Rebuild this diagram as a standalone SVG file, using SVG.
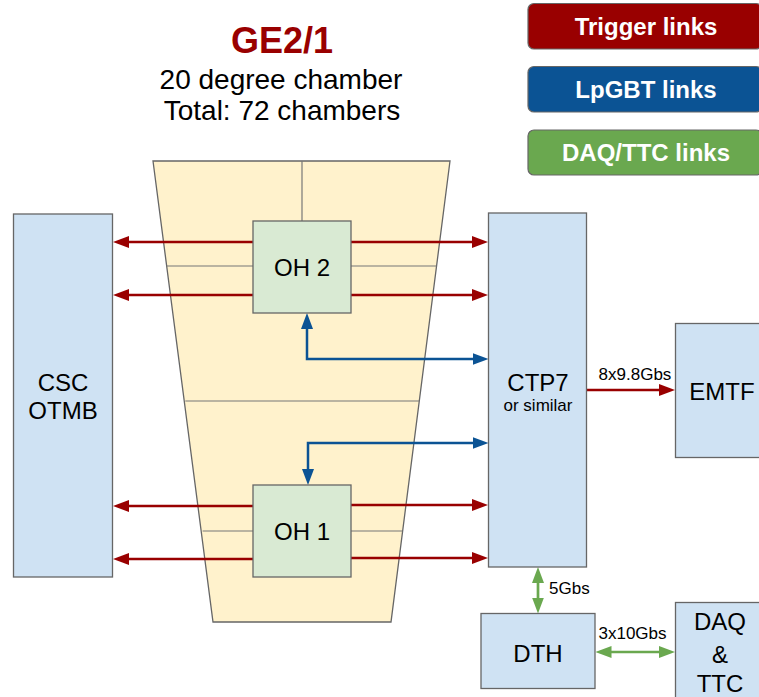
<svg xmlns="http://www.w3.org/2000/svg" width="759" height="697" viewBox="0 0 759 697">
<style>
  text { font-family: "Liberation Sans", Arial, sans-serif; fill: #000; }
  .box { fill: #cfe2f3; stroke: #666; stroke-width: 1.3; }
  .oh { fill: #d9ead3; stroke: #666; stroke-width: 1.3; }
  .grid { stroke: #777; stroke-width: 1.2; fill: none; }
  .lbl { font-size: 24px; text-anchor: middle; }
  .small { font-size: 17px; }
  .leg { font-size: 24px; font-weight: bold; fill: #fff; text-anchor: middle; }
  .red { stroke: #990000; stroke-width: 2.7; fill: none; }
  .blue { stroke: #0b5394; stroke-width: 2.5; fill: none; }
  .green { stroke: #6aa84f; stroke-width: 2.7; fill: none; }
</style>
<defs>
  <marker id="aR" viewBox="0 0 16 12" refX="8" refY="6" markerWidth="16" markerHeight="12" markerUnits="userSpaceOnUse" orient="auto-start-reverse"><path d="M0,0 L16,6 L0,12 z" fill="#990000"/></marker>
  <marker id="aB" viewBox="0 0 16 12" refX="8" refY="6" markerWidth="16" markerHeight="12" markerUnits="userSpaceOnUse" orient="auto-start-reverse"><path d="M0,0 L16,6 L0,12 z" fill="#0b5394"/></marker>
  <marker id="aG" viewBox="0 0 16 12" refX="8" refY="6" markerWidth="16" markerHeight="12" markerUnits="userSpaceOnUse" orient="auto-start-reverse"><path d="M0,0 L16,6 L0,12 z" fill="#6aa84f"/></marker>
</defs>

<g id="title">
  <text x="282" y="52.5" style="font-size:36px;font-weight:bold;fill:#990000" text-anchor="middle">GE2/1</text>
  <text x="281" y="89" style="font-size:28px" text-anchor="middle">20 degree chamber</text>
  <text x="282" y="120" style="font-size:28px" text-anchor="middle">Total: 72 chambers</text>
</g>

<g id="legend">
  <g id="legend-trigger"><rect x="528" y="3.5" width="234" height="45.5" rx="6" fill="#990000" stroke="#666" stroke-width="1.2"/><text class="leg" x="646" y="35">Trigger links</text></g>
  <g id="legend-lpgbt"><rect x="528" y="66.5" width="234" height="45.5" rx="6" fill="#0b5394" stroke="#666" stroke-width="1.2"/><text class="leg" x="646" y="98">LpGBT links</text></g>
  <g id="legend-daq"><rect x="528" y="130" width="234" height="45" rx="6" fill="#6aa84f" stroke="#666" stroke-width="1.2"/><text class="leg" x="646" y="161">DAQ/TTC links</text></g>
</g>

<g id="chamber">
  <polygon points="153,161 450,161 391,622 213,622" fill="#fff2cc" stroke="#666" stroke-width="1.3"/>
  <line class="grid" x1="302" y1="161" x2="302" y2="221"/>
  <line class="grid" x1="167" y1="266" x2="253" y2="266"/>
  <line class="grid" x1="351" y1="266" x2="436.6" y2="266"/>
  <line class="grid" x1="185.3" y1="401" x2="419.3" y2="401"/>
  <line class="grid" x1="202.6" y1="531" x2="253" y2="531"/>
  <line class="grid" x1="351" y1="531" x2="402.5" y2="531"/>
</g>

<g id="connectors">
  <path class="red" d="M253,242 H121" marker-end="url(#aR)"/>
  <path class="red" d="M253,295 H121" marker-end="url(#aR)"/>
  <path class="red" d="M253,506 H121" marker-end="url(#aR)"/>
  <path class="red" d="M253,559 H121" marker-end="url(#aR)"/>
  <path class="red" d="M351,242 H480" marker-end="url(#aR)"/>
  <path class="red" d="M351,295 H480" marker-end="url(#aR)"/>
  <path class="red" d="M351,505 H480" marker-end="url(#aR)"/>
  <path class="red" d="M351,558 H480" marker-end="url(#aR)"/>
  <path class="red" d="M587,390 H667" marker-end="url(#aR)"/>
  <path class="blue" d="M480.5,359 H307 V321" marker-start="url(#aB)" marker-end="url(#aB)"/>
  <path class="blue" d="M480.5,443 H308 V477" marker-start="url(#aB)" marker-end="url(#aB)"/>
  <path class="green" d="M538,575 V605.5" marker-start="url(#aG)" marker-end="url(#aG)"/>
  <path class="green" d="M603.5,652 H667" marker-start="url(#aG)" marker-end="url(#aG)"/>
  <text class="small" x="635" y="380" text-anchor="middle">8x9.8Gbs</text>
  <text class="small" x="549" y="593.5">5Gbs</text>
  <text class="small" x="632.5" y="638.5" text-anchor="middle">3x10Gbs</text>
</g>

<g id="oh2"><rect class="oh" x="253" y="221" width="98" height="92"/><text class="lbl" x="302" y="275.5">OH 2</text></g>
<g id="oh1"><rect class="oh" x="253" y="485" width="98" height="92"/><text class="lbl" x="302" y="540">OH 1</text></g>

<g id="csc"><rect class="box" x="13.5" y="214" width="99" height="363"/><text class="lbl" x="63" y="390.5">CSC</text><text class="lbl" x="63" y="419">OTMB</text></g>
<g id="ctp7"><rect class="box" x="488.5" y="213" width="98" height="354"/><text class="lbl" x="538" y="390.5">CTP7</text><text class="small" x="538" y="411" text-anchor="middle">or similar</text></g>
<g id="emtf"><rect class="box" x="675.5" y="323.5" width="95" height="134"/><text class="lbl" x="722" y="400">EMTF</text></g>
<g id="dth"><rect class="box" x="481" y="613.5" width="114" height="75"/><text class="lbl" x="538" y="661.5">DTH</text></g>
<g id="daq"><rect class="box" x="675.5" y="602.5" width="90" height="100"/><text class="lbl" x="720" y="630">DAQ</text><text class="lbl" x="720" y="663">&amp;</text><text class="lbl" x="720" y="691.5">TTC</text></g>
</svg>
